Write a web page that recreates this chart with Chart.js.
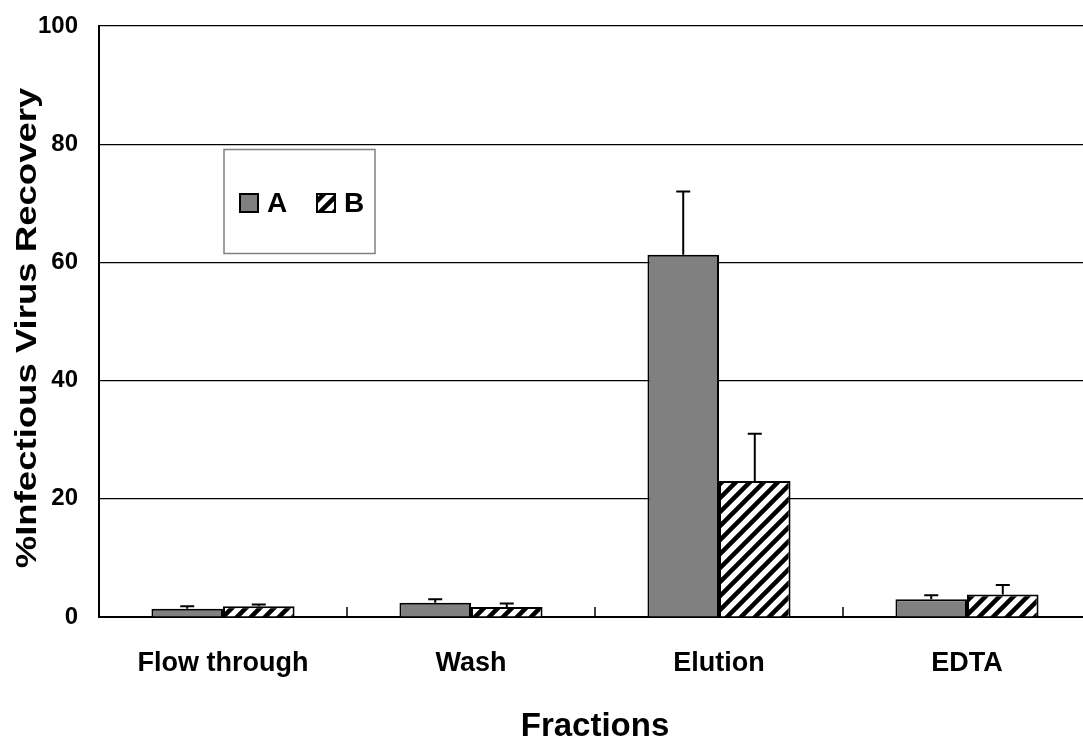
<!DOCTYPE html>
<html>
<head>
<meta charset="utf-8">
<script src="https://cdn.jsdelivr.net/npm/chart.js@4.4.0/dist/chart.umd.min.js"></script>
<style>
  html, body { margin: 0; padding: 0; background: #fff; overflow: hidden; }
  #wrap { position: relative; width: 1095px; height: 745px; }
</style>
</head>
<body>
<div id="wrap"><canvas id="bar_chart"></canvas></div>
<script>
// values
var categories = ['Flow through', 'Wash', 'Elution', 'EDTA'];
var seriesNames = ['A', 'B'];
var valuesA = [1.4, 2.4, 61.3, 3.0];
var valuesB = [1.8, 1.7, 23.0, 3.8];
var errorsA = [0.4, 0.6, 10.7, 0.7];
var errorsB = [0.3, 0.6, 8.0, 1.6];
var yTicks = [0, 20, 40, 60, 80, 100];

var FONT = "'Liberation Sans', Arial, sans-serif";

// diagonal hatch for series B
function makeHatch() {
	var c = document.createElement('canvas');
	c.width = 14; c.height = 14;
	var g = c.getContext('2d');
	g.fillStyle = '#ffffff';
	g.fillRect(0, 0, 14, 14);
	g.strokeStyle = '#000000';
	g.lineWidth = 4.5;
	g.beginPath();
	g.moveTo(-7, 7); g.lineTo(7, -7);
	g.moveTo(0, 14); g.lineTo(14, 0);
	g.moveTo(7, 21); g.lineTo(21, 7);
	g.stroke();
	return g.createPattern(c, 'repeat');
}
var hatch = makeHatch();

// up-only error bars
var errorBars = {
	id: 'errorBars',
	afterDatasetsDraw: function(chart) {
		var ctx = chart.ctx;
		var yScale = chart.scales.y;
		ctx.save();
		ctx.strokeStyle = '#000';
		ctx.lineWidth = 2;
		chart.data.datasets.forEach(function(ds, di) {
			var meta = chart.getDatasetMeta(di);
			meta.data.forEach(function(bar, i) {
				var top = yScale.getPixelForValue(ds.data[i] + ds.errors[i]);
				ctx.beginPath();
				ctx.moveTo(bar.x, bar.y);
				ctx.lineTo(bar.x, top);
				ctx.moveTo(bar.x - 7, top);
				ctx.lineTo(bar.x + 7, top);
				ctx.stroke();
			});
		});
		ctx.restore();
	}
};

// small inward tick marks between categories, stretched y title, boxed legend
var extras = {
	id: 'extras',
	afterDraw: function(chart) {
		var ctx = chart.ctx;
		var area = chart.chartArea;
		var xScale = chart.scales.x;
		ctx.save();
		ctx.strokeStyle = '#000';
		ctx.lineWidth = 1.5;
		for (var i = 1; i < categories.length; i++) {
			var bx = (xScale.getPixelForValue(i - 1) + xScale.getPixelForValue(i)) / 2;
			ctx.beginPath();
			ctx.moveTo(bx, area.bottom);
			ctx.lineTo(bx, area.bottom - 10);
			ctx.stroke();
		}
		ctx.restore();

		// y axis title
		ctx.save();
		ctx.translate(36, 328);
		ctx.rotate(-Math.PI / 2);
		ctx.scale(1.26, 1);
		ctx.fillStyle = '#000';
		ctx.font = 'bold 29px ' + FONT;
		ctx.textAlign = 'center';
		ctx.textBaseline = 'alphabetic';
		ctx.fillText('%Infectious Virus Recovery', 0, 0);
		ctx.restore();

		// legend
		ctx.save();
		ctx.strokeStyle = '#808080';
		ctx.lineWidth = 1.5;
		ctx.fillStyle = '#fff';
		ctx.fillRect(224, 149.5, 151, 104);
		ctx.strokeRect(224, 149.5, 151, 104);
		var lx = [240, 317];
		chart.data.datasets.forEach(function(ds, di) {
			ctx.fillStyle = ds.backgroundColor;
			ctx.fillRect(lx[di], 194, 18, 18);
			ctx.strokeStyle = '#000';
			ctx.lineWidth = 2;
			ctx.strokeRect(lx[di], 194, 18, 18);
			ctx.fillStyle = '#000';
			ctx.font = 'bold 28px ' + FONT;
			ctx.textAlign = 'left';
			ctx.textBaseline = 'alphabetic';
			ctx.fillText(ds.label, lx[di] + 27, 212);
		});
		ctx.restore();
	}
};

var barChart = new Chart(document.getElementById('bar_chart'), {
	type: 'bar',
	data: {
		labels: categories,
		datasets: [
			{
				label: seriesNames[0],
				data: valuesA,
				errors: errorsA,
				backgroundColor: '#808080',
				borderColor: '#000',
				borderWidth: 2,
				categoryPercentage: 0.577,
				barPercentage: 1.0
			},
			{
				label: seriesNames[1],
				data: valuesB,
				errors: errorsB,
				backgroundColor: hatch,
				borderColor: '#000',
				borderWidth: 2,
				categoryPercentage: 0.577,
				barPercentage: 1.0
			}
		]
	},
	options: {
		responsive: true,
		maintainAspectRatio: false,
		animation: false,
		devicePixelRatio: 1,
		layout: { padding: { top: 26, right: 4, left: 0, bottom: 0 } },
		plugins: {
			legend: { display: false },
			tooltip: { enabled: false }
		},
		scales: {
			x: {
				grid: { display: false, drawTicks: false },
				border: { display: true, color: '#000', width: 2 },
				ticks: {
					color: '#000',
					font: { family: FONT, size: 27, weight: 'bold' },
					padding: 30,
					maxRotation: 0
				},
				title: {
					display: true,
					text: 'Fractions',
					color: '#000',
					font: { family: FONT, size: 33, weight: 'bold', lineHeight: 1 },
					padding: { top: 0, bottom: 2 }
				},
				afterFit: function(scale) {
					scale.height = 128;
					scale.paddingLeft = 0;
					scale.paddingRight = 0;
				}
			},
			y: {
				min: 0,
				max: 100,
				afterBuildTicks: function(scale) {
					scale.ticks = yTicks.map(function(v) { return { value: v }; });
				},
				grid: { color: '#000', lineWidth: 1.2, drawTicks: false },
				border: { display: true, color: '#000', width: 2 },
				ticks: {
					color: '#000',
					font: { family: FONT, size: 24, weight: 'bold' },
					padding: 21
				},
				afterFit: function(scale) {
					scale.width = 99;
					scale.paddingTop = 0;
					scale.paddingBottom = 0;
				}
			}
		}
	},
	plugins: [errorBars, extras]
});
</script>
</body>
</html>
